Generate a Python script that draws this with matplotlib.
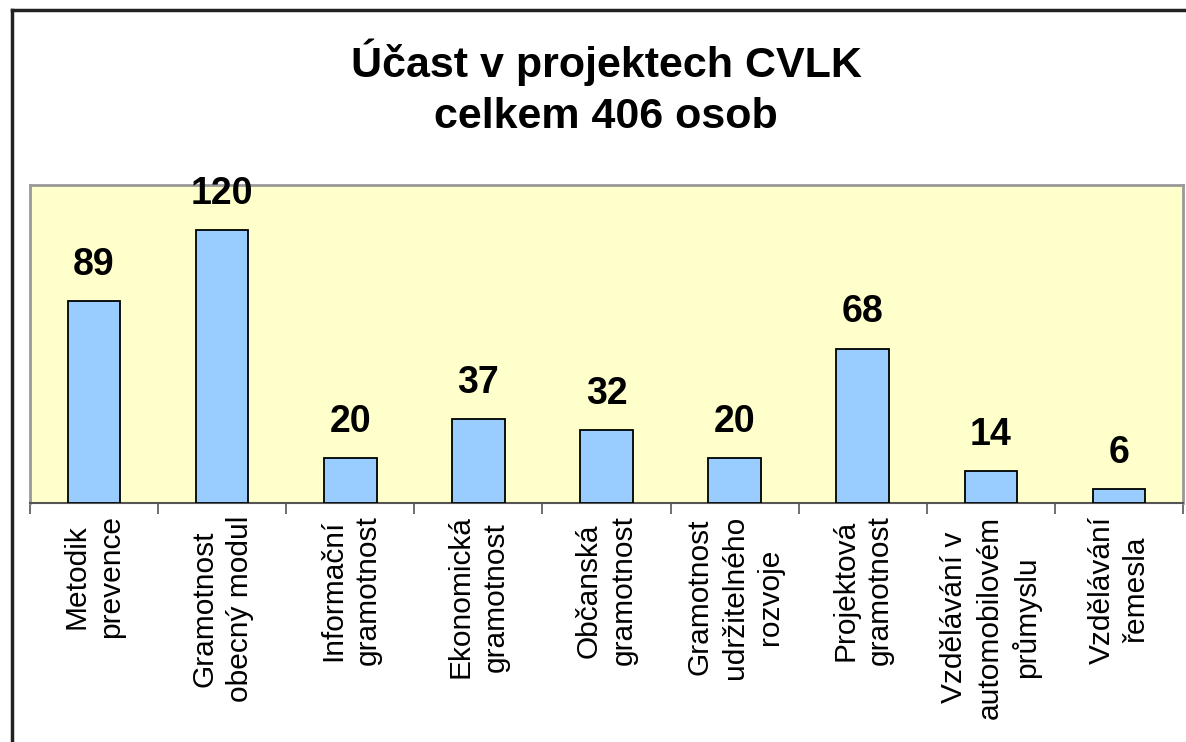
import matplotlib
matplotlib.use("Agg")
import matplotlib.pyplot as plt
from matplotlib.lines import Line2D

categories = ["Metodik\nprevence", "Gramotnost\nobecný modul", "Informační\ngramotnost",
              "Ekonomická\ngramotnost", "Občanská\ngramotnost", "Gramotnost\nudržitelného\nrozvoje",
              "Projektová\ngramotnost", "Vzdělávání v\nautomobilovém\nprůmyslu", "Vzdělávání\nřemesla"]
values = [89, 120, 20, 37, 32, 20, 68, 14, 6]
title_lines = ["Účast v projektech CVLK", "celkem 406 osob"]

plt.rcParams['font.family'] = ['Liberation Sans', 'DejaVu Sans']

W, H = 1186, 742
fig = plt.figure(figsize=(W/100, H/100), dpi=100)
fig.patch.set_facecolor('white')

ax = fig.add_axes([30/W, 1-503/H, 1153/W, 318/H])
ax.set_facecolor('#FFFFCC')
x = list(range(len(values)))
bars = ax.bar(x, values, width=0.41, color='#99CCFF', edgecolor='black', linewidth=1.3, zorder=3)
ax.set_xlim(-0.5, len(values)-0.5)
ax.set_ylim(0, 140)
ax.set_yticks([])
for s in ['top', 'left', 'right']:
    ax.spines[s].set_color('#999999')
    ax.spines[s].set_linewidth(2)
ax.spines['bottom'].set_color('#555555')
ax.spines['bottom'].set_linewidth(1.5)

ax.set_xticks(x)
ax.set_xticklabels(categories, rotation=90, fontsize=21.5, va='top', ha='center',
                   multialignment='center', linespacing=1.32)
ax.tick_params(axis='x', which='major', length=0, pad=9)
ax.set_xticks([i - 0.5 for i in range(len(values)+1)], minor=True)
ax.tick_params(axis='x', which='minor', length=8, width=1.2, color='#555555', direction='out')

for b, v in zip(bars, values):
    ax.annotate(str(v), (b.get_x() + b.get_width()/2, v), xytext=(0, 13),
                textcoords='offset points', ha='center', va='bottom',
                fontsize=27, fontweight='bold', annotation_clip=False)

fig.text(606/W, 1-62/H, title_lines[0], ha='center', va='center', fontsize=31, fontweight='bold')
fig.text(606/W, 1-117/H, title_lines[1], ha='center', va='center', fontsize=31, fontweight='bold')

fig.add_artist(Line2D([12/W, 1], [1-10/H, 1-10/H], color='#222222', linewidth=2.5,
                      transform=fig.transFigure))
fig.add_artist(Line2D([12/W, 12/W], [0, 1-10/H], color='#222222', linewidth=2.5,
                      transform=fig.transFigure))

fig.savefig("out.png", dpi=100)
